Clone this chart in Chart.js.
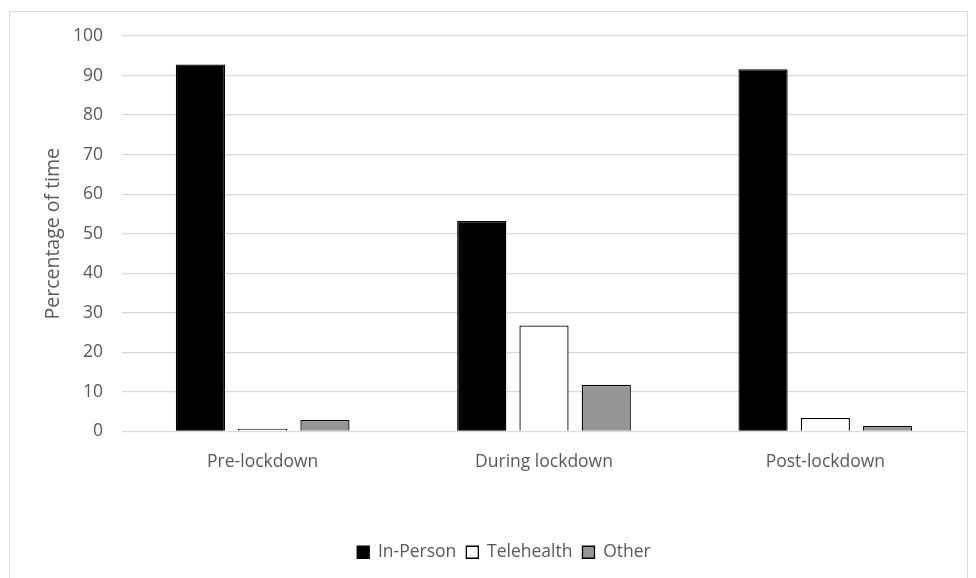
<!DOCTYPE html>
<html>
<head>
    <title>Percentage of time</title>
    <script src="https://cdn.jsdelivr.net/npm/chart.js"></script>
    <style>
        body {
            margin: 0;
            background: #ffffff;
        }
        #frame {
            position: absolute;
            left: 9px;
            top: 11px;
            width: 957px;
            height: 600px;
            border: 1px solid #d9d9d9;
        }
    </style>
</head>
<body>
    <div id="frame">
        <canvas id="modeChart" width="957" height="567"></canvas>
    </div>

    <script>
        // values
        const periods = ['Pre-lockdown', 'During lockdown', 'Post-lockdown'];
        const inPerson = [92.8, 53.2, 91.6];
        const telehealth = [0.7, 26.8, 3.4];
        const other = [2.9, 11.8, 1.4];

        const textColor = '#595959';
        const font = { family: '"Open Sans", sans-serif', size: 17.5 };
        const titleFont = { family: '"Open Sans", sans-serif', size: 19.5 };

        let ctx = document.getElementById('modeChart').getContext('2d');
        window.chart = new Chart(ctx, {
            type: 'bar',
            data: {
                labels: periods,
                datasets: [
                    { label: 'In-Person', data: inPerson, backgroundColor: '#000000', borderColor: '#000000', borderWidth: 1.3 },
                    { label: 'Telehealth', data: telehealth, backgroundColor: '#ffffff', borderColor: '#000000', borderWidth: 1.3 },
                    { label: 'Other', data: other, backgroundColor: '#969696', borderColor: '#000000', borderWidth: 1.3 }
                ]
            },
            options: {
                responsive: false,
                animation: false,
                categoryPercentage: 0.664,
                barPercentage: 0.79,
                layout: {
                    padding: { top: 24, right: 1, bottom: 8, left: 32 }
                },
                scales: {
                    x: {
                        grid: { display: false },
                        border: { display: false },
                        ticks: { color: textColor, font: font, padding: 12 },
                        afterFit: function (scale) {
                            scale.height += 49; // empty band above the legend
                        }
                    },
                    y: {
                        min: 0,
                        max: 100,
                        ticks: { stepSize: 10, color: textColor, font: font, padding: 19 },
                        grid: { color: '#d9d9d9', lineWidth: 1.3, drawTicks: false },
                        border: { display: false },
                        title: {
                            display: true,
                            text: 'Percentage of time',
                            color: textColor,
                            font: titleFont,
                            padding: { top: 0, bottom: 8 }
                        },
                        afterFit: function (scale) {
                            scale.width = 80;
                            scale.paddingTop = 0;
                            scale.paddingBottom = 0;
                        }
                    }
                },
                plugins: {
                    legend: {
                        position: 'bottom',
                        labels: {
                            color: textColor,
                            font: font,
                            boxWidth: 12,
                            boxHeight: 12,
                            padding: 10
                        }
                    },
                    tooltip: { enabled: false }
                }
            }
        });
    </script>
</body>
</html>
